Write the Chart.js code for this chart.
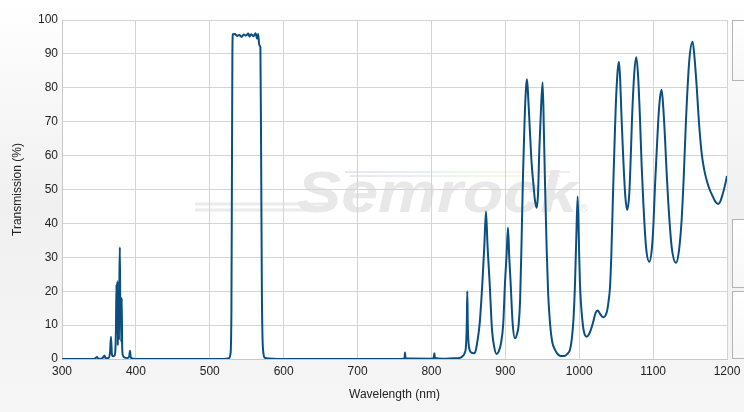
<!DOCTYPE html>
<html>
<head>
<meta charset="utf-8">
<script src="https://cdn.jsdelivr.net/npm/chart.js@4/dist/chart.umd.min.js"></script>
<style>
  body { margin: 0; background: linear-gradient(#ffffff 0%, #f0f0f0 50%, #f6f6f6 100%); font-family: "Liberation Sans", Arial, sans-serif; }
  #wrap { position: relative; width: 744px; height: 412px; overflow: hidden; }
  .side { position: absolute; left: 732px; width: 30px; border: 1px solid #b4b4b4; background: linear-gradient(#ffffff, #f7f7f7); }
</style>
</head>
<body>
<div id="wrap">
  <canvas id="MyChart" width="744" height="412"></canvas>
  <div class="side" style="top:20px;height:59px"></div>
  <div class="side" style="top:219px;height:67px"></div>
  <div class="side" style="top:291px;height:66px"></div>
</div>
<script>
// spectre de transmission
const wavelength = [
  300, 340, 345, 347.4, 349, 352, 355, 357.5, 359, 363, 365, 366.3, 367.5, 369, 371,
  372.3, 373, 373.7, 374.3, 375, 375.6, 376.3, 377, 377.7, 378.3, 379, 379.6, 380.2, 380.8, 381.5, 382.5,
  385, 389, 391, 392, 393, 396, 400,
  520, 526, 528, 529.3, 530, 530.6, 531.2, 534, 537, 540, 543, 546, 549, 552, 554, 556, 559, 562, 564, 565.5,
  567, 568.5, 569.5, 570.5, 572, 575, 600,
  760, 763.5, 764.2, 765, 800, 803, 803.9, 804.8, 815, 830,
  838, 842, 845, 846.8, 847.8, 848.5, 849.2, 850.3, 852, 854, 856.6, 859, 862, 865.3, 868.9, 871.5, 873.8, 876, 878.8,
  882, 885, 888, 891, 894, 897.2, 899.5, 901.8, 903.6, 905.3, 907.2, 909.9, 913, 916, 918, 920, 922, 924, 926, 928,
  929.3, 931, 933.4, 935.5, 937.9, 940, 942.4, 944.3, 946, 948.5, 950.5, 952.2, 953.7, 956, 958, 960.5, 963.5, 967.3,
  971, 975, 980, 984, 987.5, 990, 992.3, 994.3, 996.3, 997.9, 999.5, 1001, 1004.7, 1007, 1010, 1013, 1016, 1019,
  1022, 1025, 1028, 1031, 1033, 1036, 1038, 1040, 1041.6, 1043.5, 1046, 1048, 1049.6, 1052, 1053.8, 1055.5, 1057.3,
  1059.3, 1062.4, 1065, 1067.8, 1069.8, 1071.4, 1074.5, 1077.3, 1079.8, 1082.3, 1084.5, 1086.8, 1090.4, 1094.9,
  1098.5, 1100.5, 1102.5, 1104.8, 1107, 1109.3, 1111.6, 1113.8, 1116, 1118.3, 1120.6, 1125.1, 1131, 1135, 1138.6,
  1141.5, 1144.5, 1149, 1153.5, 1156, 1159, 1162, 1165.7, 1169, 1172.4, 1176, 1180, 1184, 1188.2, 1191, 1194, 1197, 1200
]
const transmission = [
  0, 0, 0.2, 0.6, 0.1, 0.1, 0.3, 1.0, 0.2, 0.3, 2, 6.6, 1.5, 0.8, 1,
  3, 9, 22, 8, 23, 4, 20, 6, 24, 33, 12, 18, 5, 18, 3, 1,
  0.4, 0.3, 0.8, 2.4, 0.5, 0.1, 0,
  0, 0.2, 1.5, 15, 55, 90, 95.8, 95.9, 95.3, 95.6, 95.0, 95.7, 95.4, 96.0, 95.1, 95.8, 95.2, 96.1, 94.5, 95.9,
  92.5, 92, 60, 20, 3, 0.3, 0,
  0, 0.2, 1.9, 0.2, 0.1, 0.3, 1.7, 0.3, 0.1, 0.2,
  0.3, 0.8, 1.8, 4, 10, 20, 10, 4.5, 2.5, 1.9, 1.7, 1.9, 5, 10.5, 22.3, 33, 43.5, 33, 22.3,
  8.5, 3.5, 1.5, 2.2, 4.5, 10.5, 22.3, 31, 38.7, 30, 22.3, 10.5, 6.1, 7.5, 10, 17.4, 35, 55, 70, 80,
  82.5, 77, 66.6, 58, 51.8, 47, 44.6, 49, 61.7, 75, 81.6, 67, 51.8, 32, 19, 10.5, 5, 2.7,
  1.4, 0.9, 0.9, 1.5, 2.7, 6, 12, 22.3, 38, 47.9, 35, 22.3, 10.5, 7.5, 6.6, 7.2, 8.8, 11,
  13.5, 14.3, 13.4, 12.5, 12.3, 13, 14.5, 17.5, 21, 31, 50.8, 65, 75.4, 85, 87.7, 82, 71,
  60.7, 47.9, 44, 49, 60, 70.5, 84.3, 89, 83, 70.5, 57, 45.9, 33.1, 28.7,
  33, 40, 50.8, 61, 70.5, 77, 79.4, 74, 65.6, 55, 45.9, 33.1, 28.4, 32, 41,
  54, 70.5, 88.2, 93.6, 89, 80.3, 70, 60.7, 56, 52.8, 50.3, 48.3, 46.5, 45.7, 46.5, 48.5, 51, 54
]
const xMin = 300, xMax = 1200, xStep = 100
const yMin = 0, yMax = 100, yStep = 10

const points = wavelength.map((w, i) => ({ x: w, y: transmission[i] }))

// fond blanc + filigrane Semrock
const fond = {
  id: 'fond',
  beforeDraw(chart) {
    const { ctx, chartArea: a } = chart
    ctx.save()
    ctx.fillStyle = '#ffffff'
    ctx.fillRect(a.left, a.top, a.right - a.left, a.bottom - a.top)

    ctx.strokeStyle = '#ebebeb'
    ctx.lineWidth = 3
    ctx.beginPath()
    ctx.moveTo(195, 204); ctx.lineTo(330, 204)
    ctx.moveTo(195, 210); ctx.lineTo(322, 210)
    ctx.stroke()
    const g = ctx.createLinearGradient(330, 0, 570, 0)
    g.addColorStop(0, 'rgba(225,225,225,0.8)')
    g.addColorStop(0.3, 'rgba(220,220,250,0.6)')
    g.addColorStop(0.55, 'rgba(220,245,220,0.6)')
    g.addColorStop(0.8, 'rgba(250,240,210,0.6)')
    g.addColorStop(1, 'rgba(250,215,215,0.6)')
    ctx.strokeStyle = g
    ctx.lineWidth = 2
    ctx.beginPath()
    ctx.moveTo(345, 172); ctx.lineTo(570, 172)
    ctx.moveTo(350, 176); ctx.lineTo(560, 176)
    ctx.stroke()

    ctx.font = 'italic bold 58px "Liberation Sans", Arial, sans-serif'
    ctx.fillStyle = '#e8e8e8'
    ctx.textBaseline = 'alphabetic'
    const txt = 'Semrock'
    const w = ctx.measureText(txt).width
    ctx.translate(297, 212)
    ctx.scale(280 / w, 1)
    ctx.fillText(txt, 0, 0)
    ctx.restore()
    ctx.save()
    ctx.font = '11px "Liberation Sans", Arial, sans-serif'
    ctx.fillStyle = '#e3e3e3'
    ctx.fillText('®', 580, 212)
    ctx.restore()
  }
}

const ctx = document.getElementById('MyChart')
const police = { size: 12, family: '"Liberation Sans", Arial, sans-serif' }

const config = {
  type: 'line',
  data: {
    datasets: [{
      label: 'Transmission',
      data: points,
      borderColor: '#0b4f82',
      borderWidth: 2,
      pointRadius: 0,
      fill: false,
      cubicInterpolationMode: 'monotone'
    }]
  },
  options: {
    responsive: false,
    animation: false,
    layout: { padding: { left: 0, right: 17, top: 20, bottom: 0 } },
    plugins: { legend: { display: false }, tooltip: { enabled: false } },
    scales: {
      x: {
        type: 'linear',
        min: xMin, max: xMax,
        afterFit: (s) => { s.height = 53; s.paddingRight = 0; s.paddingLeft = 0 },
        grid: { color: '#d4d4d4', drawTicks: false },
        border: { color: '#c8c8c8' },
        ticks: { stepSize: xStep, padding: 5, color: '#222', maxRotation: 0, font: police, callback: (v) => String(v) },
        title: { display: true, text: 'Wavelength (nm)', color: '#222', padding: { top: 0, bottom: 10 }, font: police }
      },
      y: {
        min: yMin, max: yMax,
        afterFit: (s) => { s.width = 62 },
        grid: { color: '#d4d4d4', drawTicks: false },
        border: { color: '#c8c8c8' },
        ticks: { stepSize: yStep, padding: 4, color: '#222', font: police, callback: (v) => String(v) },
        title: { display: true, text: 'Transmission (%)', color: '#222', padding: { top: 10, bottom: 0 }, font: police }
      }
    }
  },
  plugins: [fond]
}

new Chart(ctx, config)
</script>
</body>
</html>
